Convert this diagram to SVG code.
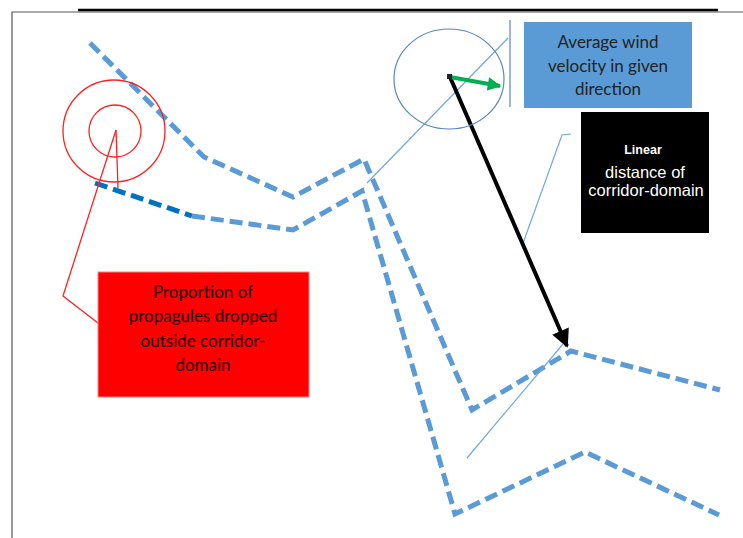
<svg xmlns="http://www.w3.org/2000/svg" width="743" height="538" viewBox="0 0 743 538">
<style>
.dash{fill:none;stroke:#5B9BD5;stroke-width:5;stroke-dasharray:13,6;stroke-linejoin:miter}
.dark{fill:none;stroke:#0070C0;stroke-width:5;stroke-dasharray:13,6}
.thin{fill:none;stroke:#6FA8DC;stroke-width:1.2}
.red{fill:none;stroke:#FF2020;stroke-width:1.3}
.t{font-family:Lato,"Open Sans",sans-serif;font-size:17px;text-anchor:middle}
.w{font-family:"Liberation Sans",Arial,sans-serif;fill:#fff;text-anchor:middle}
</style>
<defs>
<marker id="ablack" viewBox="0 0 10 10" refX="9" refY="5" markerWidth="5" markerHeight="4.5" orient="auto" markerUnits="strokeWidth">
<path d="M0,0 L10,5 L0,10 z" fill="#000"/>
</marker>
<marker id="agreen" viewBox="0 0 10 10" refX="9" refY="5" markerWidth="3.6" markerHeight="3.4" orient="auto" markerUnits="strokeWidth">
<path d="M0,0 L10,5 L0,10 z" fill="#00B050"/>
</marker>
</defs>
<rect width="743" height="538" fill="#fff"/>
<g id="frame">
<path d="M12,538 V12 H743" fill="none" stroke="#555" stroke-width="1.2"/>
<line x1="78" y1="10" x2="718" y2="10" stroke="#000" stroke-width="2.5"/>
</g>
<g id="connectors">
<polyline class="dash" points="90,43 204,157 293,197 364,159 472,410 571,351 720,390"/>
<polyline class="dark" points="95,183 192,216"/>
<polyline class="dash" points="192,216 293,230 362,191 455,514 585,452 719,515"/>
<polyline class="thin" points="508,38 367,183"/>
<line x1="510" y1="20" x2="510" y2="107" stroke="#5A86B8" stroke-width="1.2"/>
<polyline class="thin" points="571,134 562,135 522,246"/>
<line class="thin" x1="563" y1="344" x2="467" y2="458"/>
<polyline class="red" points="116,130 118,188"/>
<polyline class="red" points="116,130 63,296 98,323"/>
<line x1="450" y1="77" x2="567" y2="346" stroke="#000" stroke-width="4" marker-end="url(#ablack)"/>
<line x1="450" y1="77" x2="500" y2="86" stroke="#00B050" stroke-width="4" marker-end="url(#agreen)"/>
<rect x="447" y="74" width="5" height="5" fill="#222"/>
</g>
<g id="redcircles">
<circle cx="114" cy="131" r="51" class="red"/>
<circle cx="115" cy="131" r="26" class="red"/>
</g>
<g id="windcircle">
<ellipse cx="449" cy="79" rx="55" ry="50" fill="none" stroke="#5A86B8" stroke-width="1.2"/>
</g>
<g id="wind-box">
<rect x="524" y="22" width="168" height="86" fill="#5B9BD5"/>
<text class="t" fill="#222" x="608" y="48">Average wind</text>
<text class="t" fill="#222" x="608" y="72">velocity in given</text>
<text class="t" fill="#222" x="608" y="95">direction</text>
</g>
<g id="distance-box">
<rect x="581" y="112" width="128" height="121" fill="#000"/>
<text class="w" x="643" y="154" font-size="12.5" font-weight="bold">Linear</text>
<text class="w" x="645" y="178" font-size="16.5">distance of</text>
<text class="w" x="646" y="196" font-size="16.5">corridor-domain</text>
</g>
<g id="proportion-box">
<rect x="98" y="272" width="211" height="125" fill="#FF0000" stroke="#FF8080" stroke-width="1"/>
<text class="t" fill="#200" x="203" y="298">Proportion of</text>
<text class="t" fill="#200" x="203" y="322">propagules dropped</text>
<text class="t" fill="#200" x="203" y="347">outside corridor-</text>
<text class="t" fill="#200" x="203" y="371">domain</text>
</g>
</svg>
